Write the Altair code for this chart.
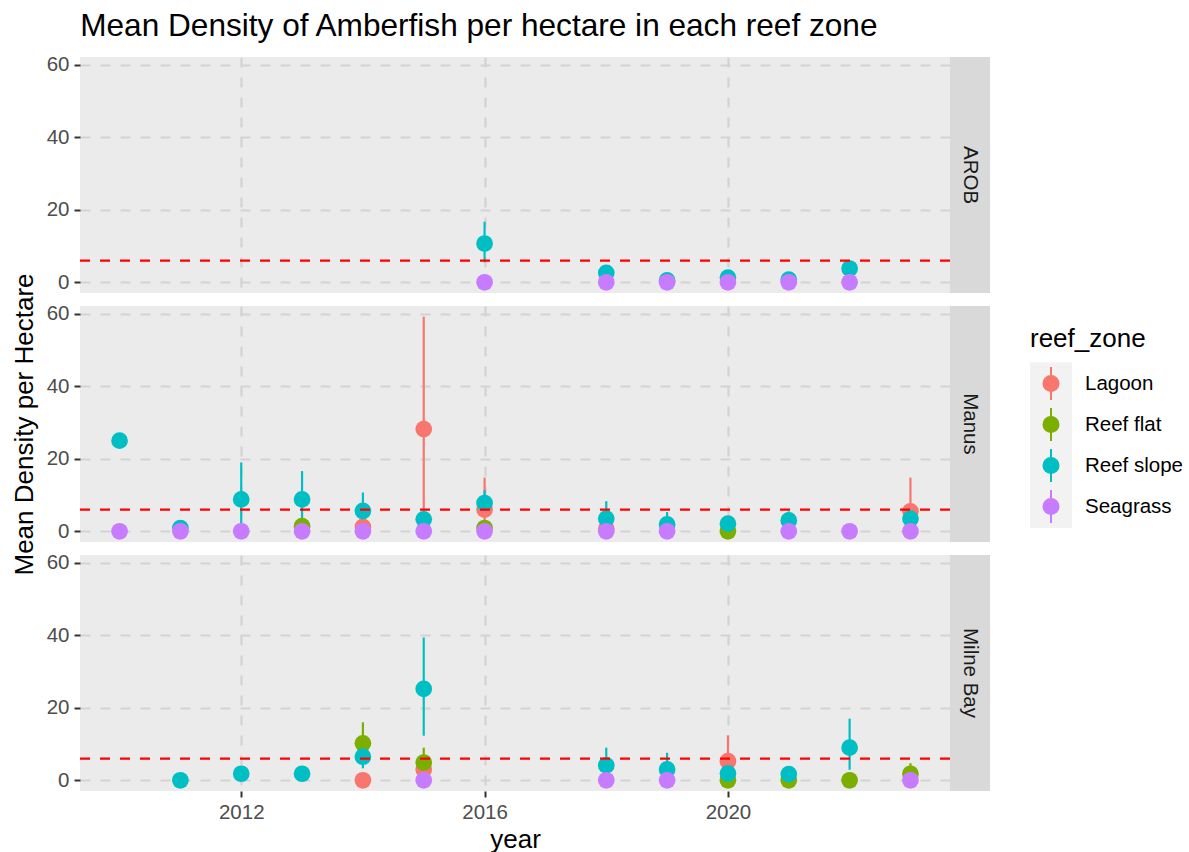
import altair as alt
import pandas as pd

ZONES = ["Lagoon", "Reef flat", "Reef slope", "Seagrass"]
ZONE_COLORS = ["#F8766D", "#7CAE00", "#00BFC4", "#C77CFF"]
REGIONS = ["AROB", "Manus", "Milne Bay"]
Y_TICKS = [0, 20, 40, 60]
X_TICKS = [2012, 2016, 2020]
THRESHOLD = [6]

N = None
region_col = (["AROB"] * 12 + ["Manus"] * 32 + ["Milne Bay"] * 23)
zone_col = (
    ["Reef slope"] * 6 + ["Seagrass"] * 6
    + ["Lagoon"] * 5 + ["Reef flat"] * 3 + ["Reef slope"] * 12 + ["Seagrass"] * 12
    + ["Lagoon"] * 3 + ["Reef flat"] * 6 + ["Reef slope"] * 10 + ["Seagrass"] * 4
)
year_col = (
    [2016, 2018, 2019, 2020, 2021, 2022]
    + [2016, 2018, 2019, 2020, 2021, 2022]
    + [2014, 2015, 2016, 2018, 2023]
    + [2013, 2016, 2020]
    + [2010, 2011, 2012, 2013, 2014, 2015, 2016, 2018, 2019, 2020, 2021, 2023]
    + [2010, 2011, 2012, 2013, 2014, 2015, 2016, 2018, 2019, 2021, 2022, 2023]
    + [2014, 2015, 2020]
    + [2014, 2015, 2020, 2021, 2022, 2023]
    + [2011, 2012, 2013, 2014, 2015, 2018, 2019, 2020, 2021, 2022]
    + [2015, 2018, 2019, 2023]
)
mean_col = (
    [10.7, 2.6, 0.5, 1.3, 0.7, 3.8]
    + [0, 0, 0, 0, 0, 0]
    + [1.2, 28.2, 6.0, 0.7, 5.5]
    + [1.4, 0.9, 0.0]
    + [25.0, 0.9, 8.8, 8.8, 5.6, 3.3, 7.8, 3.5, 1.9, 2.1, 3.0, 3.5]
    + [0] * 12
    + [0.0, 3.0, 5.3]
    + [10.2, 4.9, 0.0, 0.0, 0.0, 1.8]
    + [0.0, 1.8, 1.8, 6.5, 25.2, 4.1, 3.0, 1.9, 1.7, 9.0]
    + [0, 0, 0, 0]
)
lo_col = (
    [5.5, N, N, N, N, N]
    + [N] * 6
    + [N, 0.0, 0.0, N, 0.0]
    + [N, N, N]
    + [N, N, 0.0, 1.0, 0.5, N, 4.3, 0.0, 0.0, N, 0.5, N]
    + [N] * 12
    + [N, N, 0.0]
    + [4.4, 0.8, N, N, N, 0.0]
    + [N, N, N, 3.3, 12.3, 0.0, 0.0, N, N, 2.9]
    + [N] * 4
)
hi_col = (
    [16.7, N, N, N, N, N]
    + [N] * 6
    + [N, 59.2, 14.8, N, 14.8]
    + [N, N, N]
    + [N, N, 19.0, 16.6, 10.7, N, 11.3, 8.3, 5.3, N, 5.5, N]
    + [N] * 12
    + [N, N, 12.4]
    + [16.0, 9.0, N, N, N, 4.7]
    + [N, N, N, 9.7, 39.4, 9.0, 7.6, N, N, 17.0]
    + [N] * 4
)

df = pd.DataFrame({
    "region": region_col, "zone": zone_col, "year": year_col,
    "mean": mean_col, "lo": lo_col, "hi": hi_col,
})
df["zorder"] = df["zone"].map({z: i for i, z in enumerate(ZONES)})
df = df.sort_values(["region", "zorder"], kind="stable").reset_index(drop=True)

FONT = "Liberation Sans"
PANEL_W, PANEL_H = 870, 236

color_scale = alt.Scale(domain=ZONES, range=ZONE_COLORS)
x_scale = alt.Scale(domain=[2009.35, 2023.65], nice=False, zero=False)
y_scale = alt.Scale(domain=[-2.96, 62.16], nice=False, zero=False)


def x_axis(bottom):
    if bottom:
        return alt.Axis(values=X_TICKS, format="d", title="year", labels=True,
                        ticks=True, domain=False, titlePadding=4)
    return alt.Axis(values=X_TICKS, title=None, labels=False, ticks=False,
                    domain=False)


def y_axis(title):
    return alt.Axis(values=Y_TICKS, title=title, domain=False, titlePadding=9)


def panel(reg, bottom, ytitle):
    sub = df[df["region"] == reg]
    xa = x_axis(bottom)
    ya = y_axis(ytitle)
    col = alt.Color("zone:N", scale=color_scale, legend=None)
    bars = alt.Chart(sub).transform_filter("isValid(datum.lo)").mark_rule(
        strokeWidth=2.2
    ).encode(
        x=alt.X("year:Q", scale=x_scale, axis=xa),
        y=alt.Y("lo:Q", scale=y_scale, axis=ya),
        y2="hi:Q",
        color=col,
    )
    pts = alt.Chart(sub).mark_circle(size=280, opacity=1).encode(
        x=alt.X("year:Q", scale=x_scale, axis=xa),
        y=alt.Y("mean:Q", scale=y_scale, axis=ya),
        color=col,
        order=alt.Order("zorder:Q"),
    )
    hline = alt.Chart(pd.DataFrame({"v": THRESHOLD})).mark_rule(
        color="#FF0000", strokeDash=[10, 10], strokeWidth=2.2
    ).encode(y=alt.Y("v:Q", scale=y_scale, axis=ya))
    return alt.layer(bars, pts, hline).properties(
        width=PANEL_W, height=PANEL_H,
        view=alt.ViewBackground(fill="#EBEBEB", strokeWidth=0),
    )


def strip_text(reg):
    return alt.Chart(pd.DataFrame({"region": [reg]})).mark_text(
        angle=90, fontSize=20.5, color="#1A1A1A", font=FONT,
        align="center", baseline="middle",
    ).encode(text="region:N", x=alt.value(20), y=alt.value(PANEL_H / 2))


STRIP_PROPS = dict(width=40, height=PANEL_H,
                   view=alt.ViewBackground(fill="#D9D9D9", strokeWidth=0))


def strip(reg):
    return strip_text(reg).properties(**STRIP_PROPS)


def strip_with_legend(reg):
    # legend drawn to the right of the strip (x offsets measured from strip's left)
    ldf = pd.DataFrame({"zone": ZONES})
    ly = alt.Y("zone:N", scale=alt.Scale(type="point", domain=ZONES,
                                         range=[77.6, 200.6], padding=0),
               axis=None)
    col = alt.Color("zone:N", scale=color_scale, legend=None)
    title = alt.Chart(pd.DataFrame({"t": ["reef_zone"]})).mark_text(
        align="left", baseline="middle", fontSize=26, color="black", font=FONT
    ).encode(text="t:N", x=alt.value(80), y=alt.value(33))
    bg = alt.Chart(pd.DataFrame({"t": ["bg"]})).mark_rect(color="#F2F2F2").encode(
        x=alt.value(80), x2=alt.value(122), y=alt.value(56.5), y2=alt.value(222)
    )
    lines = alt.Chart(ldf).mark_point(
        shape="M0,-1L0,1", size=33 * 33, strokeWidth=2, filled=False, opacity=1
    ).encode(x=alt.value(101), y=ly, color=col)
    dots = alt.Chart(ldf).mark_circle(size=290, opacity=1).encode(
        x=alt.value(101), y=ly, color=col
    )
    labels = alt.Chart(ldf).mark_text(
        align="left", baseline="middle", fontSize=20.5, color="black", font=FONT
    ).encode(text="zone:N", x=alt.value(135), y=ly)
    return alt.layer(strip_text(reg), bg, title, lines, dots, labels).properties(
        **STRIP_PROPS
    )


chart = alt.concat(
    panel("AROB", False, None), strip("AROB"),
    panel("Manus", False, "Mean Density per Hectare"), strip_with_legend("Manus"),
    panel("Milne Bay", True, None), strip("Milne Bay"),
    columns=2, spacing={"row": 13, "column": 0}, bounds="flush",
).properties(
    title=alt.TitleParams(
        text="Mean Density of Amberfish per hectare in each reef zone",
        anchor="start", fontSize=31.6, fontWeight="normal", color="black",
        font=FONT, offset=12, dx=69,
    ),
    padding={"left": 11, "top": 11, "right": 0, "bottom": 0},
).configure(
    font=FONT,
).configure_view(
    strokeWidth=0,
).configure_axis(
    grid=True, gridColor="#D3D3D3", gridDash=[10, 10], gridWidth=2.2,
    tickColor="#333333", tickSize=6, tickWidth=2,
    labelFont=FONT, labelFontSize=20.5, labelColor="#4D4D4D", labelPadding=5,
    titleFont=FONT, titleFontSize=26, titleFontWeight="normal",
    titleColor="black", titlePadding=5,
)

chart.save("out.html", embed_options={"renderer": "svg", "actions": False})
